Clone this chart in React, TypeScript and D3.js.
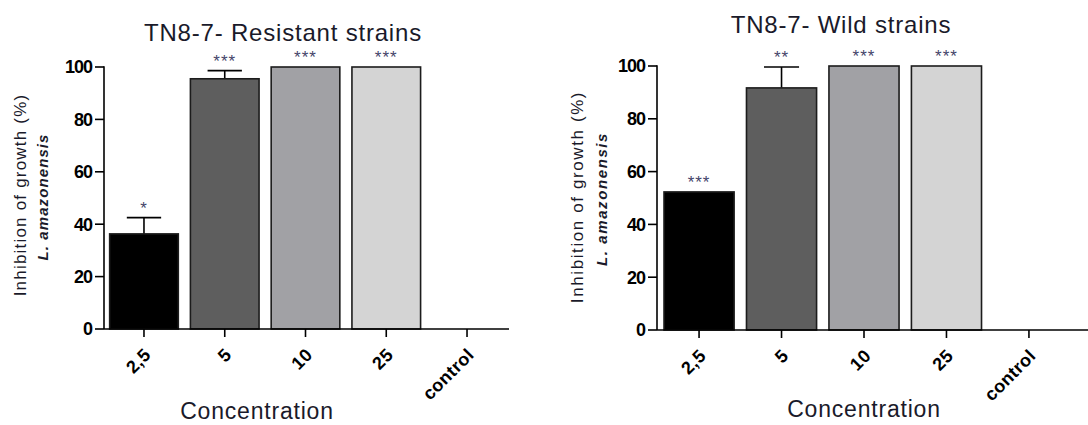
import React from "react";
import * as d3 from "d3";

const categories = ["2,5", "5", "10", "25", "control"];
const resistantValues: (number | null)[] = [36.3, 95.5, 100, 100, null];
const resistantErrors: (number | null)[] = [6.2, 3.1, 0, 0, null];
const resistantStars = ["*", "***", "***", "***", ""];
const wildValues: (number | null)[] = [52.3, 91.7, 100, 100, null];
const wildErrors: (number | null)[] = [0, 7.9, 0, 0, null];
const wildStars = ["***", "**", "***", "***", ""];
const yTicks = [0, 20, 40, 60, 80, 100];
const barColors = ["#000000", "#5e5e5e", "#a1a1a5", "#d4d4d4", "#ffffff"];

const FONT = "'Liberation Sans', Arial, sans-serif";

type PanelProps = {
  title: string;
  values: (number | null)[];
  errors: (number | null)[];
  stars: string[];
  axisX: number;
  bandEnd: number;
  axisLineEnd: number;
  yTop: number;
  yBottom: number;
  paddingOuter: number;
  titleX: number;
  titleY: number;
  xTitleX: number;
  xTitleY: number;
  yLab1X: number;
  yLab2X: number;
  yLabY: number;
  yLab1Spacing: number;
  yLab2Spacing: number;
  yLab1Text: string;
};

function Panel(p: PanelProps) {
  const x = d3
    .scaleBand<string>()
    .domain(categories)
    .range([p.axisX, p.bandEnd])
    .paddingInner(0.15)
    .paddingOuter(p.paddingOuter);
  const y = d3.scaleLinear().domain([0, 100]).range([p.yBottom, p.yTop]);
  const bw = x.bandwidth();
  return (
    <g>
      <text
        x={p.titleX}
        y={p.titleY}
        textAnchor="middle"
        fontFamily={FONT}
        fontSize={24}
        letterSpacing={0.8}
        fill="#1a1a2a"
      >
        {p.title}
      </text>
      {categories.map((c, i) => {
        const v = p.values[i];
        if (v == null) return null;
        const cx = (x(c) as number) + bw / 2;
        const e = p.errors[i] || 0;
        return (
          <g key={c}>
            {e > 0 && (
              <g stroke="#000" strokeWidth={1.6}>
                <line x1={cx} x2={cx} y1={y(v)} y2={y(v + e)} />
                <line x1={cx - bw / 4} x2={cx + bw / 4} y1={y(v + e)} y2={y(v + e)} />
              </g>
            )}
            <rect
              x={x(c)}
              y={y(v)}
              width={bw}
              height={y(0) - y(v)}
              fill={barColors[i]}
              stroke="#1c1c1c"
              strokeWidth={1.6}
            />
            <text
              x={cx}
              y={y(v + e) - 4}
              textAnchor="middle"
              fontFamily={FONT}
              fontSize={17}
              letterSpacing={1}
              fill="#45456a"
            >
              {p.stars[i]}
            </text>
          </g>
        );
      })}
      {/* y axis */}
      <line x1={p.axisX} x2={p.axisX} y1={y(0)} y2={y(100) - 0.8} stroke="#000" strokeWidth={1.6} />
      {yTicks.map((t) => (
        <g key={t}>
          <line x1={p.axisX - 9} x2={p.axisX} y1={y(t)} y2={y(t)} stroke="#000" strokeWidth={1.6} />
          <text
            x={p.axisX - 12}
            y={y(t)}
            dy="0.36em"
            textAnchor="end"
            fontFamily={FONT}
            fontWeight="bold"
            fontSize={18}
            letterSpacing={-1}
            fill="#000"
          >
            {t}
          </text>
        </g>
      ))}
      {/* x axis */}
      <line x1={p.axisX} x2={p.axisLineEnd} y1={y(0)} y2={y(0)} stroke="#000" strokeWidth={1.6} />
      {categories.map((c) => {
        const cx = (x(c) as number) + bw / 2;
        return (
          <g key={c}>
            <line x1={cx} x2={cx} y1={y(0)} y2={y(0) + 8} stroke="#000" strokeWidth={1.6} />
            <text
              transform={`translate(${cx + 8},${y(0) + 27}) rotate(-45)`}
              textAnchor="end"
              fontFamily={FONT}
              fontWeight="bold"
              fontSize={18}
              letterSpacing={0.4}
              fill="#000"
            >
              {c}
            </text>
          </g>
        );
      })}
      <text
        x={p.xTitleX}
        y={p.xTitleY}
        textAnchor="middle"
        fontFamily={FONT}
        fontSize={23}
        letterSpacing={0.8}
        fill="#1a1a2a"
      >
        Concentration
      </text>
      <text
        transform={`translate(${p.yLab1X},${p.yLabY}) rotate(-90)`}
        textAnchor="middle"
        fontFamily={FONT}
        fontSize={17}
        letterSpacing={p.yLab1Spacing}
        fill="#1a1a2a"
      >
        {p.yLab1Text}
      </text>
      <text
        transform={`translate(${p.yLab2X},${p.yLabY + 2}) rotate(-90)`}
        textAnchor="middle"
        fontFamily={FONT}
        fontSize={15}
        fontWeight="bold"
        fontStyle="italic"
        letterSpacing={p.yLab2Spacing}
        fill="#1a1a2a"
      >
        L. amazonensis
      </text>
    </g>
  );
}

export default function App() {
  return (
    <svg
      width={1088}
      height={425}
      style={{ position: "absolute", left: 0, top: 0, background: "#fff" }}
    >
      <rect width={1088} height={425} fill="#fff" />
      <Panel
        title="TN8-7- Resistant strains"
        values={resistantValues}
        errors={resistantErrors}
        stars={resistantStars}
        axisX={104}
        bandEnd={507}
        axisLineEnd={509}
        yTop={67}
        yBottom={329}
        paddingOuter={0.07}
        titleX={283}
        titleY={41}
        xTitleX={257}
        xTitleY={419}
        yLab1X={26}
        yLab2X={48}
        yLabY={195}
        yLab1Spacing={1.2}
        yLab2Spacing={1.1}
        yLab1Text="Inhibition of growth (%)"
      />
      <Panel
        title="TN8-7- Wild strains"
        values={wildValues}
        errors={wildErrors}
        stars={wildStars}
        axisX={657}
        bandEnd={1071}
        axisLineEnd={1090}
        yTop={66}
        yBottom={330}
        paddingOuter={0.085}
        titleX={841}
        titleY={33}
        xTitleX={864}
        xTitleY={417}
        yLab1X={583}
        yLab2X={607}
        yLabY={197}
        yLab1Spacing={1.6}
        yLab2Spacing={1.6}
        yLab1Text="Inhibition of growth  (%)"
      />
    </svg>
  );
}
